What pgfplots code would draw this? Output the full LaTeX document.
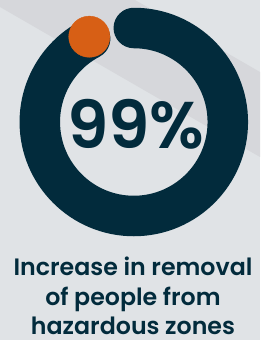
\documentclass[border=0pt]{standalone}
\usepackage{pgfplots}
\pgfplotsset{compat=1.18}
\usepackage{fontspec}
\setmainfont{Poppins}[BoldFont={Poppins SemiBold}]
\definecolor{bgc}{HTML}{E0E3E6}
\definecolor{band}{HTML}{D6D7DB}
\definecolor{navy}{HTML}{022B3C}
\definecolor{orng}{HTML}{D75F15}
\begin{document}
\begin{tikzpicture}
\begin{axis}[
  x=1pt, y=1pt,
  xmin=0, xmax=260, ymin=0, ymax=340,
  hide axis, clip=false,
  scale only axis,
]
% background
\fill[bgc] (axis cs:0,0) rectangle (axis cs:260,340);
\fill[band] (axis cs:0,340) -- (axis cs:135,340) -- (axis cs:260,268) -- (axis cs:260,183) -- (axis cs:0,333) -- cycle;
% ring: 99% arc (stylised), from top clockwise
\draw[navy, line width=40.5pt, line cap=round] (axis cs:133.8,312) arc[start angle=90, end angle=-242.3, radius=94pt];
% 1% marker
\addplot[only marks, mark=*, mark size=20.6pt, color=orng, mark options={draw=none, fill=orng}] coordinates {(89.3,303.3)};
% centre value
\node[anchor=base, inner sep=0pt, text=navy, font=\fontsize{66}{66}\selectfont\bfseries] at (axis cs:135.8,191) {99\%};
% caption
\node[anchor=base, inner sep=0pt, text=navy, font=\fontsize{23.7}{30}\selectfont\bfseries] at (axis cs:133,64.6) {Increase in removal};
\node[anchor=base, inner sep=0pt, text=navy, font=\fontsize{23.7}{30}\selectfont\bfseries] at (axis cs:133,34.3) {of people from};
\node[anchor=base, inner sep=0pt, text=navy, font=\fontsize{23.7}{30}\selectfont\bfseries] at (axis cs:133,5.7) {hazardous zones};
\end{axis}
\end{tikzpicture}
\end{document}
